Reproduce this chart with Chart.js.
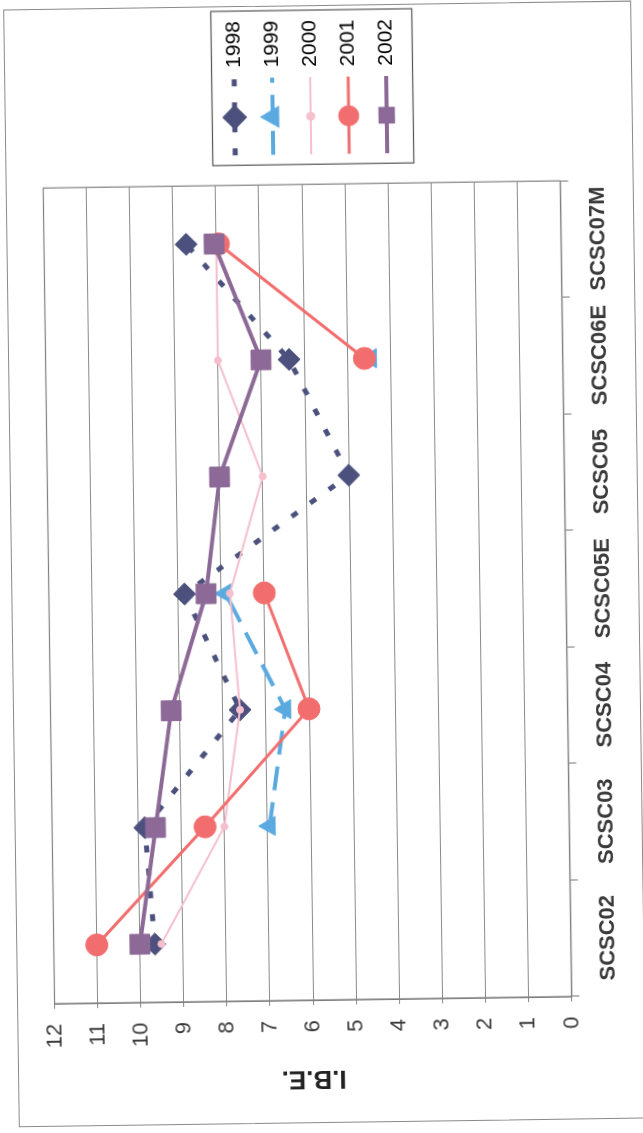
<!DOCTYPE html>
<html>
<head>
<meta charset="utf-8">
<script src="https://cdn.jsdelivr.net/npm/chart.js@4.4.1/dist/chart.umd.min.js"></script>
<style>
  html, body { margin: 0; padding: 0; background: #fff; }
  body { width: 643px; height: 1133px; overflow: hidden; position: relative; }
  /* the scanned page is the chart turned a quarter turn (plus a slight skew) */
  #sheet { position: absolute; left: -245px; top: 245px; width: 1133px; height: 643px;
           transform-origin: 50% 50%; transform: rotate(-90.8deg); }
  #frame { position: absolute; left: 10px; top: 11px; width: 1118px; height: 628px;
           border: 1.5px solid #8a8a8a; box-sizing: border-box; }
  #c { position: absolute; left: 0; top: 0; }
</style>
</head>
<body>
<div id="sheet">
  <div id="frame"></div>
  <canvas id="c" width="1133" height="643"></canvas>
</div>
<script>
const categories = ["SCSC02", "SCSC03", "SCSC04", "SCSC05E", "SCSC05", "SCSC06E", "SCSC07M"];
const years = ["1998", "1999", "2000", "2001", "2002"];
const ibe1998 = [9.65, 9.85, 7.6, 8.85, 5.0, 6.35, 8.7];
const ibe1999 = [null, 6.95, 6.55, 7.9, null, 4.45, null];
const ibe2000 = [9.5, 8.0, 7.6, 7.8, 7.0, 8.0, 8.0];
const ibe2001 = [11.0, 8.45, 6.0, 7.0, null, 4.6, 7.95];
const ibe2002 = [10.0, 9.6, 9.2, 8.35, 8.0, 7.0, 8.05];
const yMin = 0, yMax = 12, yStep = 1;

const styles = [
  { color: "#4b507d", width: 5, dash: [7, 16], point: "rectRot", r: 11 },
  { color: "#5aaae0", width: 4, dash: [24, 12], point: "triangle", r: 11 },
  { color: "#f5bfcd", width: 2, dash: [], point: "circle", r: 3.5 },
  { color: "#f26e6e", width: 3, dash: [], point: "circle", r: 11 },
  { color: "#8c6996", width: 4, dash: [], point: "rect", r: 14 },
];
const series = [ibe1998, ibe1999, ibe2000, ibe2001, ibe2002];

// legend swatch: line sample with the marker in the middle (Excel style)
function swatch(s) {
  const cv = document.createElement("canvas");
  cv.width = 90; cv.height = 26;
  const g = cv.getContext("2d");
  g.strokeStyle = s.color; g.lineWidth = s.width; g.setLineDash(s.dash);
  g.beginPath(); g.moveTo(13, 13); g.lineTo(90, 13); g.stroke();
  g.setLineDash([]);
  g.fillStyle = s.color;
  g.beginPath();
  Chart.helpers.drawPoint(g, { pointStyle: s.point, radius: Math.min(s.r, 9), borderWidth: 1 }, 51, 13);
  g.fill();
  return cv;
}

const frames = {
  id: "frames",
  beforeDatasetsDraw(chart) {
    const { ctx, chartArea: a } = chart;
    ctx.save();
    ctx.strokeStyle = "#808080"; ctx.lineWidth = 1.2;
    ctx.strokeRect(a.left, a.top, a.right - a.left, a.bottom - a.top);
    ctx.restore();
  },
  afterDraw(chart) {
    const hb = chart.legend.legendHitBoxes;
    if (!hb || !hb.length) return;
    const l = Math.min(...hb.map((b) => b.left)), t = Math.min(...hb.map((b) => b.top));
    const r = Math.max(...hb.map((b) => b.left + b.width)), b = Math.max(...hb.map((b) => b.top + b.height));
    const ctx = chart.ctx;
    ctx.save();
    ctx.strokeStyle = "#555"; ctx.lineWidth = 1.2;
    ctx.strokeRect(l + 3, t - 12, r - l + 7, b - t + 28);
    ctx.restore();
  },
};

new Chart(document.getElementById("c"), {
  type: "line",
  data: {
    labels: categories,
    datasets: years.map((y, i) => ({
      label: y, data: series[i], order: 5 - i,
      borderColor: styles[i].color, backgroundColor: styles[i].color,
      borderWidth: styles[i].width, borderDash: styles[i].dash,
      pointStyle: styles[i].point, pointRadius: styles[i].r, pointBorderWidth: 1,
      pointBackgroundColor: styles[i].color, pointBorderColor: styles[i].color,
      tension: 0, spanGaps: false,
    })),
  },
  options: {
    responsive: false, animation: false, devicePixelRatio: 1,
    layout: { padding: { top: 0, bottom: 9, left: 0, right: 10 } },
    plugins: {
      tooltip: { enabled: false },
      legend: {
        position: "right",
        labels: {
          usePointStyle: true, pointStyleWidth: 90, padding: 17, color: "#222",
          font: { family: "'Liberation Sans', Arial, sans-serif", size: 21 },
          generateLabels: () => years.map((y, i) => ({
            text: y, datasetIndex: i, pointStyle: swatch(styles[i]),
            fillStyle: styles[i].color, strokeStyle: styles[i].color, lineWidth: 0, hidden: false,
          })),
        },
      },
    },
    scales: {
      x: {
        type: "category", offset: true,
        grid: { drawOnChartArea: false, drawTicks: true, tickLength: 8, offset: true, color: "#777" },
        border: { color: "#777", width: 1.2 },
        ticks: { color: "#3a3a3a", padding: 16, maxRotation: 0, autoSkip: false,
                 font: { family: "'Liberation Sans', Arial, sans-serif", size: 22, weight: "bold" } },
        afterFit: (s) => { s.height = 68.5; },
      },
      // empty top band so the plot starts where it does on the page
      xTop: {
        type: "category", position: "top", display: true,
        grid: { display: false }, border: { display: false }, ticks: { display: false },
        afterFit: (s) => { s.height = 48.5; },
      },
      y: {
        min: yMin, max: yMax,
        ticks: { stepSize: yStep, color: "#3a3a3a", padding: 15,
                 font: { family: "'Liberation Sans', Arial, sans-serif", size: 22 } },
        grid: { color: "#8a8a8a", lineWidth: 1, tickLength: 5 },
        border: { color: "#777", width: 1.2 },
        title: { display: true, text: "I.B.E.", color: "#222", padding: { top: 39, bottom: 0 },
                 font: { family: "'Liberation Sans', Arial, sans-serif", size: 26, weight: "bold" } },
        afterFit: (s) => { s.width = 133; },
      },
    },
  },
  plugins: [frames],
});
</script>
</body>
</html>
